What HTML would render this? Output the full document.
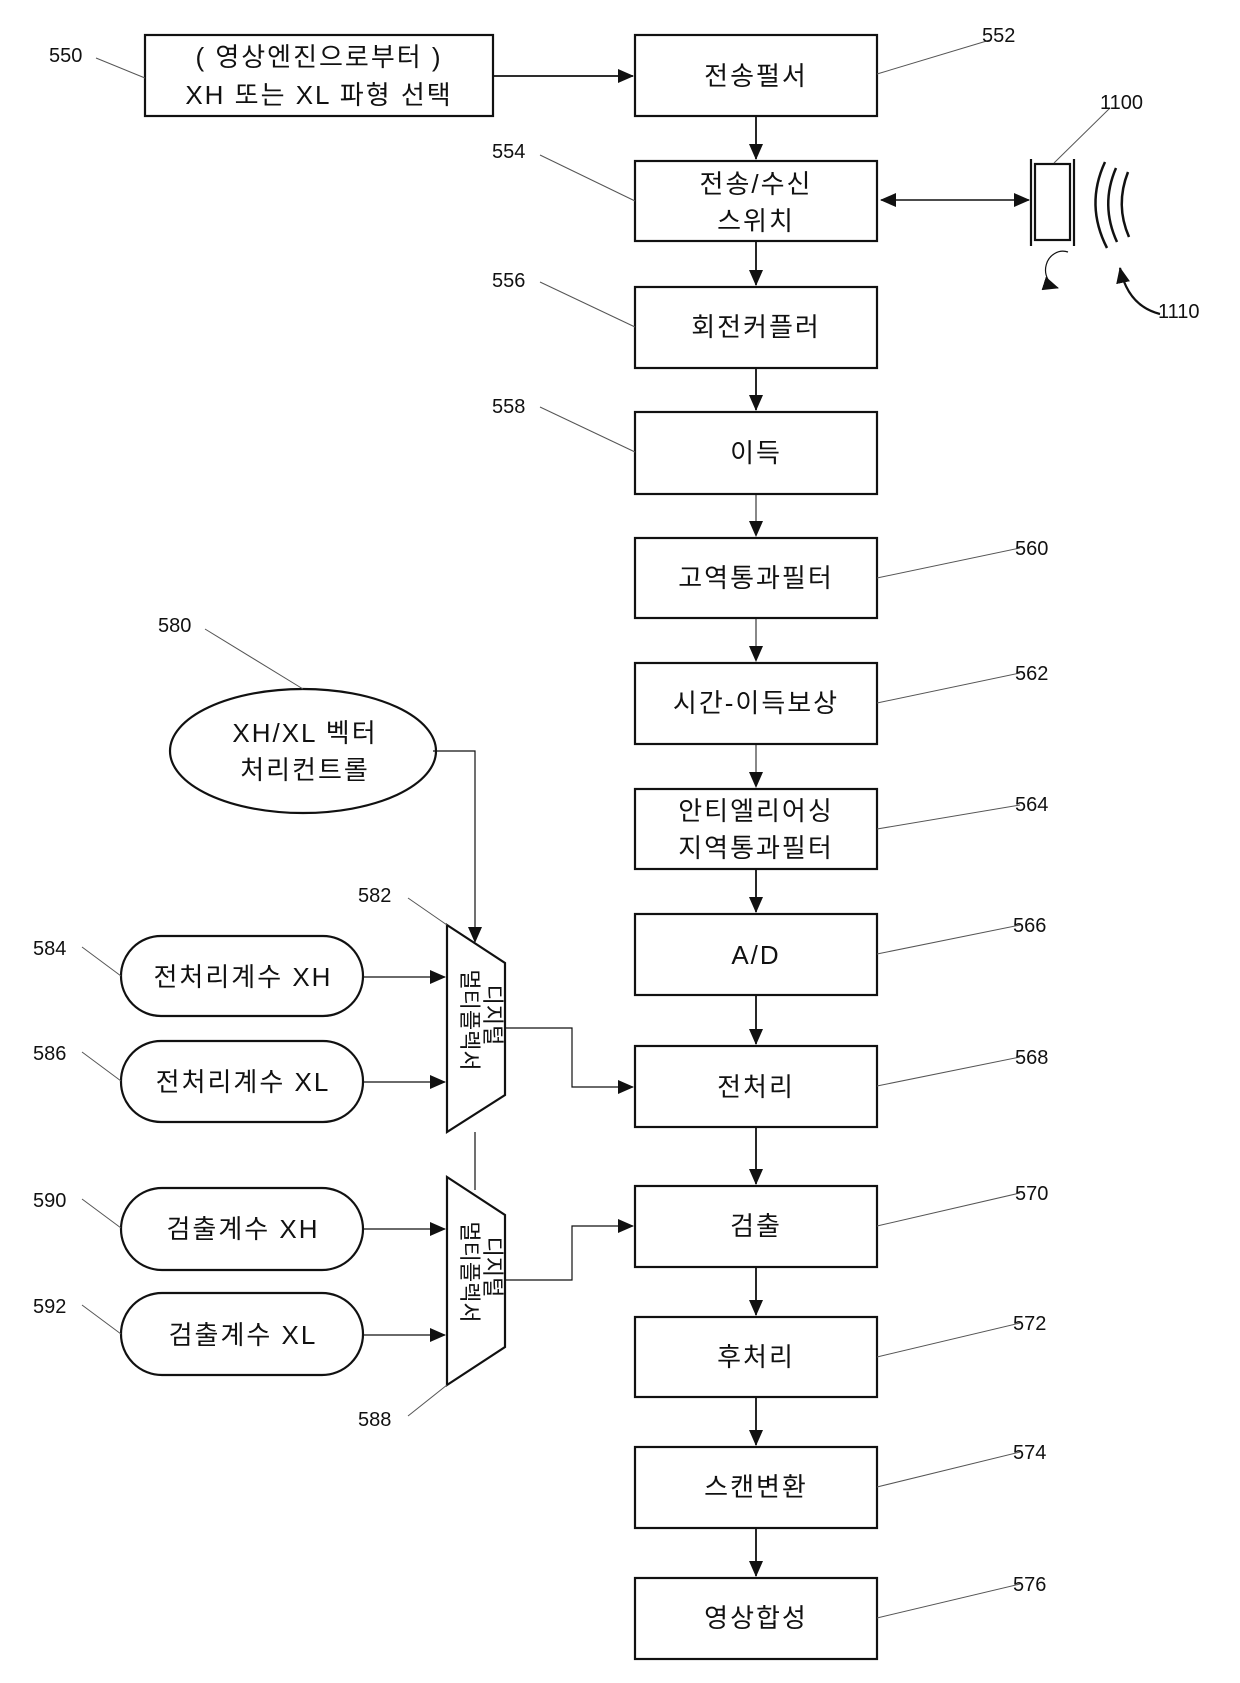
<!DOCTYPE html>
<html><head><meta charset="utf-8"><style>
html,body{margin:0;padding:0;background:#fff}
svg{display:block}
text{font-family:"Liberation Sans","Noto Sans CJK KR",sans-serif;fill:#111}
.b{font-size:26px;text-anchor:middle;letter-spacing:2px}
.n{font-size:20px}
</style></head><body>
<svg width="1240" height="1683" viewBox="0 0 1240 1683" xmlns="http://www.w3.org/2000/svg">
<defs>
<marker id="a" markerWidth="16" markerHeight="14" refX="15" refY="7" orient="auto" markerUnits="userSpaceOnUse">
<path d="M0,0 L16,7 L0,14 Z" fill="#111"/></marker>
<marker id="as" markerWidth="16" markerHeight="14" refX="1" refY="7" orient="auto" markerUnits="userSpaceOnUse">
<path d="M16,0 L0,7 L16,14 Z" fill="#111"/></marker>
</defs>
<g fill="none" stroke="#111" stroke-width="2.2">
<rect x="145" y="35" width="348" height="81"/>
<rect x="635" y="35" width="242" height="81"/>
<rect x="635" y="161" width="242" height="80"/>
<rect x="635" y="287" width="242" height="81"/>
<rect x="635" y="412" width="242" height="82"/>
<rect x="635" y="538" width="242" height="80"/>
<rect x="635" y="663" width="242" height="81"/>
<rect x="635" y="789" width="242" height="80"/>
<rect x="635" y="914" width="242" height="81"/>
<rect x="635" y="1046" width="242" height="81"/>
<rect x="635" y="1186" width="242" height="81"/>
<rect x="635" y="1317" width="242" height="80"/>
<rect x="635" y="1447" width="242" height="81"/>
<rect x="635" y="1578" width="242" height="81"/>
<ellipse cx="303" cy="751" rx="133" ry="62"/>
<rect x="121" y="936" width="242" height="80" rx="40"/>
<rect x="121" y="1041" width="242" height="81" rx="40"/>
<rect x="121" y="1188" width="242" height="82" rx="41"/>
<rect x="121" y="1293" width="242" height="82" rx="41"/>
<path d="M447,925 L505,963 L505,1095 L447,1132 Z"/>
<path d="M447,1177 L505,1215 L505,1347 L447,1385 Z"/>
<rect x="1035" y="164" width="35" height="76"/>
<line x1="1031" y1="159" x2="1031" y2="246"/>
<line x1="1074" y1="159" x2="1074" y2="246"/>
<path d="M1105,162 Q1085,205 1107,248" stroke-width="2.5"/>
<path d="M1116,168 Q1100,205 1117,242" stroke-width="2.5"/>
<path d="M1128,172 Q1115,205 1129,237" stroke-width="2.5"/>
</g>
<g fill="none" stroke="#111" stroke-width="1.8">
<line x1="493" y1="76" x2="633" y2="76" marker-end="url(#a)"/>
<line x1="756" y1="116" x2="756" y2="159" marker-end="url(#a)"/>
<line x1="756" y1="241" x2="756" y2="285" marker-end="url(#a)"/>
<line x1="756" y1="368" x2="756" y2="410" marker-end="url(#a)"/>
<line x1="756" y1="494" x2="756" y2="536" marker-end="url(#a)" stroke-width="1"/>
<line x1="756" y1="618" x2="756" y2="661" marker-end="url(#a)" stroke-width="1"/>
<line x1="756" y1="744" x2="756" y2="787" marker-end="url(#a)" stroke-width="1"/>
<line x1="756" y1="869" x2="756" y2="912" marker-end="url(#a)"/>
<line x1="756" y1="995" x2="756" y2="1044" marker-end="url(#a)"/>
<line x1="756" y1="1127" x2="756" y2="1184" marker-end="url(#a)"/>
<line x1="756" y1="1267" x2="756" y2="1315" marker-end="url(#a)"/>
<line x1="756" y1="1397" x2="756" y2="1445" marker-end="url(#a)"/>
<line x1="756" y1="1528" x2="756" y2="1576" marker-end="url(#a)"/>
<line x1="881" y1="200" x2="1029" y2="200" marker-start="url(#as)" marker-end="url(#a)" stroke-width="1.5"/>
<g stroke-width="1.2">
<polyline points="433,751 475,751 475,942" marker-end="url(#a)"/>
<line x1="475" y1="1132" x2="475" y2="1190"/>
<polyline points="505,1028 572,1028 572,1087 633,1087" marker-end="url(#a)"/>
<polyline points="505,1280 572,1280 572,1226 633,1226" marker-end="url(#a)"/>
<line x1="363" y1="977" x2="445" y2="977" marker-end="url(#a)"/>
<line x1="363" y1="1082" x2="445" y2="1082" marker-end="url(#a)"/>
<line x1="363" y1="1229" x2="445" y2="1229" marker-end="url(#a)"/>
<line x1="363" y1="1335" x2="445" y2="1335" marker-end="url(#a)"/>
</g>
<path d="M1068,252 A13,14 0 1 0 1058,288" stroke-width="1.2" marker-end="url(#a)"/>
<path d="M1160,314 Q1128,306 1120,268" stroke-width="2.2" marker-end="url(#a)"/>
</g>
<g fill="none" stroke="#555" stroke-width="1">
<line x1="96" y1="58" x2="145" y2="78"/>
<line x1="990" y1="40" x2="877" y2="74"/>
<line x1="1110" y1="108" x2="1054" y2="163"/>
<line x1="540" y1="155" x2="635" y2="201"/>
<line x1="540" y1="282" x2="635" y2="327"/>
<line x1="540" y1="407" x2="635" y2="452"/>
<line x1="1020" y1="548" x2="877" y2="578"/>
<line x1="1020" y1="673" x2="877" y2="703"/>
<line x1="1020" y1="805" x2="877" y2="829"/>
<line x1="1020" y1="925" x2="877" y2="954"/>
<line x1="1020" y1="1057" x2="877" y2="1086"/>
<line x1="1020" y1="1193" x2="877" y2="1226"/>
<line x1="1020" y1="1323" x2="877" y2="1357"/>
<line x1="1020" y1="1452" x2="877" y2="1487"/>
<line x1="1020" y1="1584" x2="877" y2="1618"/>
<line x1="205" y1="629" x2="303" y2="689"/>
<line x1="408" y1="898" x2="447" y2="925"/>
<line x1="82" y1="947" x2="121" y2="976"/>
<line x1="82" y1="1052" x2="121" y2="1081"/>
<line x1="82" y1="1199" x2="121" y2="1228"/>
<line x1="82" y1="1305" x2="121" y2="1334"/>
<line x1="408" y1="1416" x2="447" y2="1385"/>
</g>
<text class="b" x="319" y="66">( 영상엔진으로부터 )</text>
<text class="b" x="319" y="104">XH 또는 XL 파형 선택</text>
<text class="b" x="756" y="85">전송펄서</text>
<text class="b" x="756" y="193">전송/수신</text>
<text class="b" x="756" y="230">스위치</text>
<text class="b" x="756" y="336">회전커플러</text>
<text class="b" x="756" y="462">이득</text>
<text class="b" x="756" y="587">고역통과필터</text>
<text class="b" x="756" y="712">시간-이득보상</text>
<text class="b" x="756" y="820">안티엘리어싱</text>
<text class="b" x="756" y="857">지역통과필터</text>
<text class="b" x="756" y="964">A/D</text>
<text class="b" x="756" y="1096">전처리</text>
<text class="b" x="756" y="1235">검출</text>
<text class="b" x="756" y="1366">후처리</text>
<text class="b" x="756" y="1496">스캔변환</text>
<text class="b" x="756" y="1627">영상합성</text>
<text class="b" x="305" y="742">XH/XL 벡터</text>
<text class="b" x="305" y="779">처리컨트롤</text>
<text class="b" x="243" y="986">전처리계수 XH</text>
<text class="b" x="243" y="1091">전처리계수 XL</text>
<text class="b" x="243" y="1238">검출계수 XH</text>
<text class="b" x="243" y="1344">검출계수 XL</text>
<g style="font-size:22px">
<text transform="translate(485,985) rotate(90)" text-anchor="middle" x="30" y="0">디지털</text>
<text transform="translate(462,970) rotate(90)" text-anchor="middle" x="50" y="0">멀티플렉서</text>
<text transform="translate(485,1237) rotate(90)" text-anchor="middle" x="30" y="0">디지털</text>
<text transform="translate(462,1222) rotate(90)" text-anchor="middle" x="50" y="0">멀티플렉서</text>
</g>
<g class="n">
<text x="49" y="62">550</text>
<text x="982" y="42">552</text>
<text x="1100" y="109">1100</text>
<text x="1158" y="318">1110</text>
<text x="492" y="158">554</text>
<text x="492" y="287">556</text>
<text x="492" y="413">558</text>
<text x="1015" y="555">560</text>
<text x="1015" y="680">562</text>
<text x="1015" y="811">564</text>
<text x="1013" y="932">566</text>
<text x="1015" y="1064">568</text>
<text x="1015" y="1200">570</text>
<text x="1013" y="1330">572</text>
<text x="1013" y="1459">574</text>
<text x="1013" y="1591">576</text>
<text x="158" y="632">580</text>
<text x="358" y="902">582</text>
<text x="33" y="955">584</text>
<text x="33" y="1060">586</text>
<text x="33" y="1207">590</text>
<text x="33" y="1313">592</text>
<text x="358" y="1426">588</text>
</g>
</svg>
</body></html>
